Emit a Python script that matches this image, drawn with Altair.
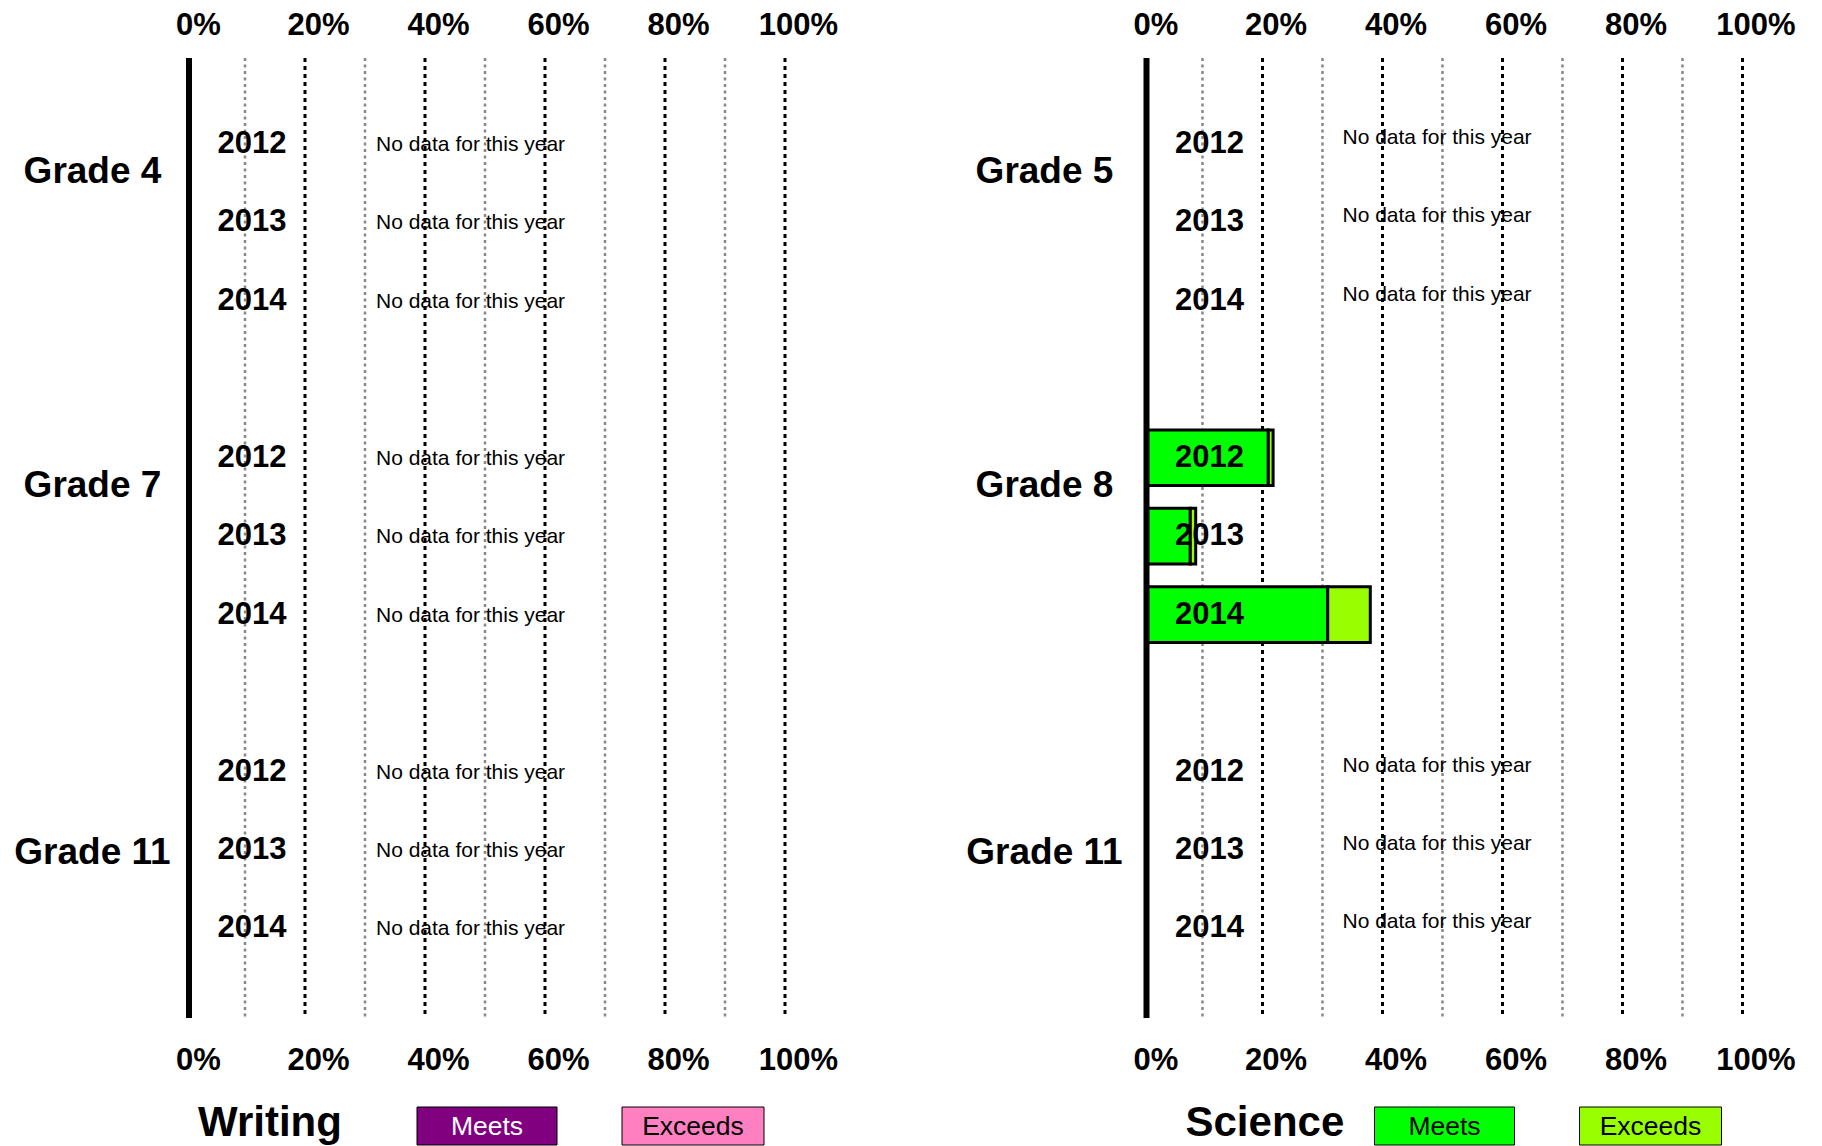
import altair as alt
import pandas as pd

# ---------------- data ----------------
years = ["2012", "2013", "2014"]
levels = ["Meets", "Exceeds"]

writing_grades = ["Grade 4", "Grade 7", "Grade 11"]
writing_meets = [[None, None, None], [None, None, None], [None, None, None]]
writing_exceeds = [[None, None, None], [None, None, None], [None, None, None]]
writing_colors = ["#800080", "#FF80C0"]

science_grades = ["Grade 5", "Grade 8", "Grade 11"]
science_meets = [[None, None, None], [20.3, 7.3, 30.2], [None, None, None]]
science_exceeds = [[None, None, None], [0.8, 0.9, 7.1], [None, None, None]]
science_colors = ["#00FF00", "#99FF00"]

tick_values = [0, 20, 40, 60, 80, 100]
major_grid = [20, 40, 60, 80, 100]
minor_grid = [10, 30, 50, 70, 90]
no_data_text = "No data for this year"

# ---------------- layout ----------------
W = 600
H = 960
FONT = "Liberation Sans"


def axis_def(orient, pad):
    return alt.Axis(
        orient=orient, values=tick_values, labelExpr="datum.value + '%'",
        domain=False, ticks=False, tickSize=0, grid=False, title=None,
        labelFont=FONT, labelFontSize=31, labelFontWeight="bold", labelColor="black",
        labelBaseline="alphabetic", labelPadding=pad, labelOffset=9,
        labelFlush=False, labelOverlap=False,
    )


def panel(subject, grades, meets, exceeds, colors, nd_x, nd_dy, title_x, grade_x):
    domain = []
    for i, g in enumerate(grades):
        if i > 0:
            domain.append(f"gap{i}")
        for yr in years:
            domain.append(f"{g}|{yr}")
    yscale = alt.Scale(domain=domain, paddingInner=0.29, paddingOuter=0.763, align=0.485)
    xscale = alt.Scale(domain=[0, 100], zero=True, nice=False)
    cscale = alt.Scale(domain=levels, range=colors)

    rows, bars = [], []
    for g, mrow, erow in zip(grades, meets, exceeds):
        for yr, m, e in zip(years, mrow, erow):
            rows.append({"row": f"{g}|{yr}", "grade": g, "year": yr, "has": m is not None})
            if m is not None:
                bars.append({"row": f"{g}|{yr}", "level": "Meets", "value": m, "ord": 0})
                bars.append({"row": f"{g}|{yr}", "level": "Exceeds", "value": e, "ord": 1})
    rows_df = pd.DataFrame(rows)
    bars_df = pd.DataFrame(bars, columns=["row", "level", "value", "ord"])
    nodata_df = rows_df[~rows_df["has"]][["row"]].assign(t=no_data_text)
    year_df = rows_df[["row", "year"]]

    grade_main = pd.DataFrame({"row": [f"{g}|2012" for g in grades[:2]], "g": grades[:2]})
    grade_last = pd.DataFrame({"row": [f"{grades[2]}|2013"], "g": [grades[2]]})

    minor = alt.Chart(pd.DataFrame({"v": minor_grid})).mark_rule(
        color="#888888", strokeWidth=2.5, strokeDash=[3, 3.5], xOffset=-4
    ).encode(x=alt.X("v:Q", scale=xscale, axis=None))

    major = alt.Chart(pd.DataFrame({"v": major_grid})).mark_rule(
        color="black", strokeWidth=3, strokeDash=[4, 4], xOffset=-4
    ).encode(x=alt.X("v:Q", scale=xscale, axis=axis_def("top", 24)))

    nodata = alt.Chart(nodata_df).mark_text(
        font=FONT, fontSize=21, align="left", baseline="middle", dy=nd_dy, color="black"
    ).encode(y=alt.Y("row:N", scale=yscale, axis=None), x=alt.value(nd_x), text="t:N")

    barl = alt.Chart(bars_df).mark_bar(stroke="black", strokeWidth=3).encode(
        y=alt.Y("row:N", scale=yscale, axis=None),
        x=alt.X("value:Q", stack="zero", scale=xscale, axis=None),
        color=alt.Color("level:N", scale=cscale, legend=None),
        order=alt.Order("ord:Q"),
    )

    axis_line = alt.Chart(pd.DataFrame({"v": [0]})).mark_rule(
        color="black", strokeWidth=6
    ).encode(x=alt.X("v:Q", scale=xscale, axis=axis_def("bottom", 51)))

    yrs = alt.Chart(year_df).mark_text(
        font=FONT, fontSize=31, fontWeight="bold", align="center", baseline="middle", color="black"
    ).encode(y=alt.Y("row:N", scale=yscale, axis=None), x=alt.value(63), text="year:N")

    g1 = alt.Chart(grade_main).mark_text(
        font=FONT, fontSize=37, fontWeight="bold", align="center", baseline="middle", dy=28, color="black"
    ).encode(y=alt.Y("row:N", scale=yscale, axis=None), x=alt.value(grade_x), text="g:N")
    g2 = alt.Chart(grade_last).mark_text(
        font=FONT, fontSize=37, fontWeight="bold", align="center", baseline="middle", dy=3, color="black"
    ).encode(y=alt.Y("row:N", scale=yscale, axis=None), x=alt.value(grade_x), text="g:N")

    title = alt.Chart(pd.DataFrame({"t": [subject]})).mark_text(
        font=FONT, fontSize=42, fontWeight="bold", align="left", baseline="alphabetic", color="black"
    ).encode(x=alt.value(title_x), y=alt.value(H + 118), text="t:N")

    legend_layers = []
    box_x = [(228, 368), (433, 575)]
    for lvl, (x1, x2) in zip(levels, box_x):
        d = pd.DataFrame({"label": [lvl]})
        legend_layers.append(
            alt.Chart(d).mark_rect(stroke="black", strokeWidth=1).encode(
                x=alt.value(x1), x2=alt.value(x2), y=alt.value(H + 89), y2=alt.value(H + 127),
                color=alt.Color("label:N", scale=cscale, legend=None),
            )
        )
        tcol = "white" if (subject == "Writing" and lvl == "Meets") else "black"
        legend_layers.append(
            alt.Chart(d).mark_text(
                font=FONT, fontSize=26.5, align="center", baseline="middle", color=tcol
            ).encode(x=alt.value((x1 + x2) / 2), y=alt.value(H + 109), text="label:N")
        )

    return alt.layer(
        minor, major, nodata, barl, axis_line, yrs, g1, g2, title, *legend_layers
    ).resolve_axis(x="independent").properties(width=W, height=H)


left = panel("Writing", writing_grades, writing_meets, writing_exceeds, writing_colors, 187, 1, 9, -96.5)
right = panel("Science", science_grades, science_meets, science_exceeds, science_colors, 196, -6, 39, -102)

chart = alt.hconcat(left, right, spacing=357.5, bounds="flush").resolve_scale(
    color="independent"
).properties(
    padding={"left": 6, "top": 1, "right": 2, "bottom": 0}
).configure_view(strokeWidth=0)

chart.save("out.html", embed_options={"renderer": "svg", "actions": False})
